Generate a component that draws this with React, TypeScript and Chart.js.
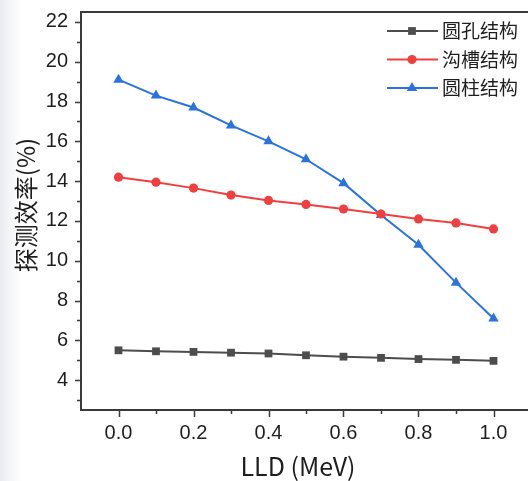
import React, { useEffect, useRef } from 'react';
import { Chart, registerables } from 'chart.js';

Chart.register(...registerables);

// ---- data ----
const lldValues = [0, 0.1, 0.2, 0.3, 0.4, 0.5, 0.6, 0.7, 0.8, 0.9, 1.0];
const holeValues = [5.5, 5.45, 5.42, 5.38, 5.34, 5.25, 5.18, 5.12, 5.06, 5.02, 4.97];
const grooveValues = [14.2, 13.95, 13.65, 13.3, 13.03, 12.83, 12.6, 12.35, 12.1, 11.9, 11.6];
const cylinderValues = [19.1, 18.3, 17.7, 16.8, 16.0, 15.1, 13.9, 12.3, 10.8, 8.9, 7.1];
const seriesNames = ['圆孔结构', '沟槽结构', '圆柱结构'];
const xTickValues = [0, 0.2, 0.4, 0.6, 0.8, 1.0];
const xMinorTickValues = [0.1, 0.3, 0.5, 0.7, 0.9];
const yTickValues = [4, 6, 8, 10, 12, 14, 16, 18, 20, 22];
const yMinorTickValues = [3, 5, 7, 9, 11, 13, 15, 17, 19, 21];
const xTitle = 'LLD (MeV)';
const yTitle = '探测效率(%)';

// ---- styles ----
const colors = ['#4d4d4d', '#f03f3f', '#2a72de'];
const pointStyles = ['rect', 'circle', 'triangle'];
const pointRadii = [5.5, 4.6, 6];
const axisColor = '#3a3a3a';
const textColor = '#1e1e1e';
const cjkFont = '"Noto Sans CJK SC", "Noto Sans", sans-serif';
const tickFont = '"Liberation Sans", Arial, sans-serif';

function drawMarker(ctx: CanvasRenderingContext2D, style: string, x: number, y: number, r: number, color: string) {
  ctx.save();
  ctx.fillStyle = color;
  ctx.beginPath();
  if (style === 'rect') {
    const s = r * Math.SQRT1_2;
    ctx.rect(x - s, y - s, 2 * s, 2 * s);
  } else if (style === 'circle') {
    ctx.arc(x, y, r, 0, Math.PI * 2);
  } else {
    for (let k = 0; k < 3; k++) {
      const a = -Math.PI / 2 + (k * 2 * Math.PI) / 3;
      const px = x + r * Math.cos(a);
      const py = y + r * Math.sin(a);
      if (k === 0) ctx.moveTo(px, py);
      else ctx.lineTo(px, py);
    }
    ctx.closePath();
  }
  ctx.fill();
  ctx.restore();
}

const decorPlugin = {
  id: 'decor',
  afterDraw(chart: any) {
    const ctx: CanvasRenderingContext2D = chart.ctx;
    const area = chart.chartArea;
    const xs = chart.scales.x;
    const ys = chart.scales.y;
    ctx.save();
    ctx.strokeStyle = axisColor;
    ctx.lineWidth = 2;
    // top frame line
    ctx.beginPath();
    ctx.moveTo(area.left - 1, area.top);
    ctx.lineTo(area.right, area.top);
    ctx.stroke();
    // x ticks (outward, down)
    ctx.lineWidth = 1.5;
    const drawXTick = (v: number, len: number) => {
      const px = Math.round(xs.getPixelForValue(v)) + 0.5;
      ctx.beginPath();
      ctx.moveTo(px, area.bottom);
      ctx.lineTo(px, area.bottom + len);
      ctx.stroke();
    };
    xTickValues.forEach((v) => drawXTick(v, 7));
    xMinorTickValues.forEach((v) => drawXTick(v, 4));
    const drawYTick = (v: number, len: number) => {
      const py = Math.round(ys.getPixelForValue(v)) + 0.5;
      ctx.beginPath();
      ctx.moveTo(area.left, py);
      ctx.lineTo(area.left - len, py);
      ctx.stroke();
    };
    yTickValues.forEach((v) => drawYTick(v, 6));
    yMinorTickValues.forEach((v) => drawYTick(v, 4));

    // axis titles
    ctx.fillStyle = textColor;
    ctx.textAlign = 'center';
    ctx.textBaseline = 'middle';
    ctx.font = `25px ${cjkFont}`;
    ctx.fillText(xTitle, 298, 466);
    ctx.save();
    ctx.translate(26, 205);
    ctx.rotate(-Math.PI / 2);
    ctx.font = `24px ${cjkFont}`;
    ctx.fillText(yTitle, 0, 0);
    ctx.restore();

    // legend
    const rowsY = [31, 59.5, 88];
    chart.data.datasets.forEach((ds: any, i: number) => {
      const y = rowsY[i];
      ctx.strokeStyle = colors[i];
      ctx.lineWidth = 2;
      ctx.beginPath();
      ctx.moveTo(387, y);
      ctx.lineTo(438, y);
      ctx.stroke();
      drawMarker(ctx, pointStyles[i], 412, y, pointRadii[i], colors[i]);
      ctx.fillStyle = textColor;
      ctx.textAlign = 'left';
      ctx.textBaseline = 'middle';
      ctx.font = `19px ${cjkFont}`;
      ctx.fillText(ds.label, 442, y);
    });
    ctx.restore();
  },
};

export default function App() {
  const canvasRef = useRef<HTMLCanvasElement | null>(null);

  useEffect(() => {
    const canvas = canvasRef.current;
    if (!canvas) return;
    const seriesValues = [holeValues, grooveValues, cylinderValues];
    const chart = new Chart(canvas, {
      type: 'line',
      data: {
        datasets: seriesValues.map((vals, i) => ({
          label: seriesNames[i],
          data: lldValues.map((x, j) => ({ x, y: vals[j] })),
          borderColor: colors[i],
          backgroundColor: colors[i],
          borderWidth: 2,
          pointStyle: pointStyles[i] as any,
          pointRadius: pointRadii[i],
          pointBorderWidth: 0,
          pointBackgroundColor: colors[i],
          tension: 0,
          fill: false,
        })),
      },
      options: {
        responsive: false,
        animation: false,
        devicePixelRatio: 1,
        layout: { padding: { top: 12, right: 14, left: 0, bottom: 0 } },
        plugins: {
          legend: { display: false },
          tooltip: { enabled: false },
          title: { display: false },
        },
        scales: {
          x: {
            type: 'linear',
            min: -0.1,
            max: 1.1,
            afterBuildTicks: (s: any) => {
              s.ticks = xTickValues.map((v) => ({ value: v }));
            },
            afterFit: (s: any) => {
              s.height = 71;
              s.paddingLeft = 0;
              s.paddingRight = 0;
            },
            ticks: {
              callback: (v: any) => Number(v).toFixed(1),
              font: { family: tickFont, size: 20 },
              color: textColor,
              padding: 11,
              maxRotation: 0,
              autoSkip: false,
            },
            grid: { display: false, drawTicks: false },
            border: { display: true, color: axisColor, width: 2 },
          },
          y: {
            type: 'linear',
            min: 2.5,
            max: 22.5,
            afterBuildTicks: (s: any) => {
              s.ticks = yTickValues.map((v) => ({ value: v }));
            },
            afterFit: (s: any) => {
              s.width = 81;
              s.paddingTop = 0;
              s.paddingBottom = 0;
            },
            ticks: {
              font: { family: tickFont, size: 20 },
              color: textColor,
              padding: 13,
              autoSkip: false,
            },
            grid: { display: false, drawTicks: false },
            border: { display: true, color: axisColor, width: 2 },
          },
        },
      },
      plugins: [decorPlugin],
    });
    return () => chart.destroy();
  }, []);

  return (
    <div
      style={{
        position: 'fixed',
        left: 0,
        top: 0,
        width: 528,
        height: 481,
        overflow: 'hidden',
        background: 'linear-gradient(to right, #e8ebef 0px, #f4f5f7 10px, #ffffff 22px)',
      }}
    >
      <canvas ref={canvasRef} width={545} height={481} style={{ display: 'block' }} />
    </div>
  );
}
